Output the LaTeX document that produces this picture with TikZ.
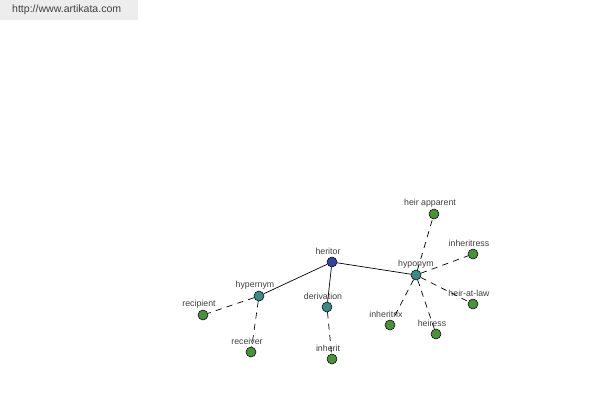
\documentclass[tikz,border=0pt]{standalone}
\usepackage{fontspec}
\setmainfont{Liberation Sans}
\usepackage{tikz}

\definecolor{rootblue}{RGB}{52,66,160}
\definecolor{relteal}{RGB}{58,138,138}
\definecolor{leafgreen}{RGB}{74,146,58}
\definecolor{labgray}{RGB}{64,64,64}

\begin{document}
\begin{tikzpicture}[x=0.02cm, y=-0.02cm, every node/.style={font=\fontsize{5}{6}\selectfont},
	word/.style={circle, draw=black, line width=0.3pt, minimum size=0.2cm, inner sep=0pt},
	every label/.style={text=labgray, inner sep=0.5pt, label distance=0.1mm, xshift=-0.8mm}]
	\useasboundingbox (0,0) rectangle (600,400);
	\fill[black!7] (0,0) rectangle (138,20);
	\node[anchor=west, text=labgray, font=\fontsize{6}{7}\selectfont] (url) at (6,10) {http://www.artikata.com};

	\node[word, fill=rootblue, label=above:heritor] (heritor) at (332,262) {};
	\node[word, fill=relteal, label=above:hypernym] (hyper) at (259,296) {};
	\node[word, fill=relteal, label=above:derivation] (deriv) at (327,307) {};
	\node[word, fill=relteal, label={[xshift=0.8mm]above:hyponym}] (hypo) at (416,275) {};

	\node[word, fill=leafgreen, label=above:recipient] (recipient) at (203,315) {};
	\node[word, fill=leafgreen, label=above:receiver] (receiver) at (251,352) {};
	\node[word, fill=leafgreen, label=above:inherit] (inherit) at (332,359) {};
	\node[word, fill=leafgreen, label=above:heir apparent] (apparent) at (434,214) {};
	\node[word, fill=leafgreen, label=above:inheritress] (inheritress) at (473,254) {};
	\node[word, fill=leafgreen, label=above:heir-at-law] (atlaw) at (473,304) {};
	\node[word, fill=leafgreen, label=above:heiress] (heiress) at (436,334) {};
	\node[word, fill=leafgreen, label=above:inheritrix] (inheritrix) at (390,325) {};

	\draw (heritor) -- (hyper);
	\draw (heritor) -- (deriv);
	\draw (heritor) -- (hypo);
	\foreach \a/\b in {hyper/recipient, hyper/receiver, deriv/inherit, hypo/apparent, hypo/inheritress, hypo/atlaw, hypo/heiress, hypo/inheritrix}
		\draw[dash pattern=on 3.5pt off 3pt] (\a) -- (\b);
\end{tikzpicture}
\end{document}
